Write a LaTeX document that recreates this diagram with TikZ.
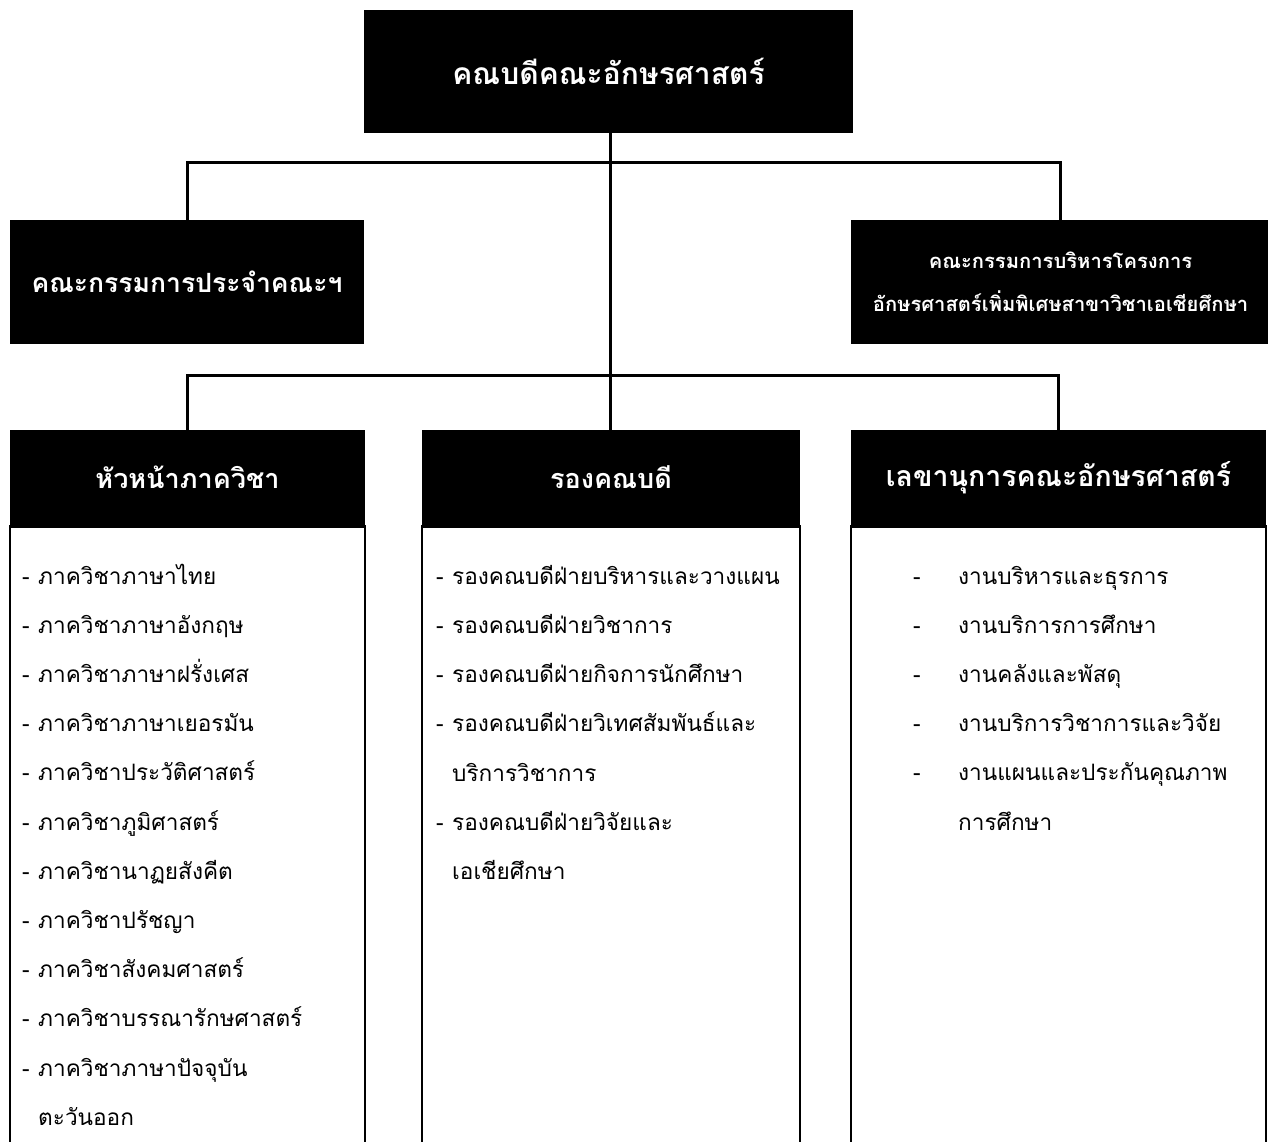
\documentclass[tikz,border=0pt]{standalone}
\usepackage{fontspec}
\newfontfamily\thai[Script=Thai]{Loma}
\tikzset{
  px/.style={x=1pt,y=-1pt},
  blackbox/.style={fill=black, text=white, inner sep=0pt, align=center, font=\thai\bfseries},
  bodybox/.style={draw=black, line width=2.5pt, fill=white, inner sep=0pt},
  conn/.style={draw=black, line width=3pt},
  item/.style={anchor=base west, inner sep=0pt, font=\thai\fontsize{22.6}{26}\selectfont},
}
\begin{document}
\begin{tikzpicture}[px]
\useasboundingbox (0,0) rectangle (1268,1142);
\clip (0,0) rectangle (1268,1142);
\fill[white] (0,0) rectangle (1268,1142);

% connector junctions
\coordinate (j1) at (610.5,163);
\coordinate (j2) at (610.5,375);

% bodies of bottom boxes
\node[bodybox, minimum width=355pt, minimum height=640pt, anchor=north] (lbody) at (187.5,525) {};
\node[bodybox, minimum width=378pt, minimum height=640pt, anchor=north] (mbody) at (611,525) {};
\node[bodybox, minimum width=415pt, minimum height=640pt, anchor=north] (rbody) at (1058.5,525) {};

\node[blackbox, minimum width=489pt, minimum height=123pt, font=\thai\bfseries\fontsize{30}{34}\selectfont] (dean) at (608.5,71.5) {คณบดีคณะอักษรศาสตร์};
\node[blackbox, minimum width=354pt, minimum height=124pt, font=\thai\bfseries\fontsize{26.5}{30}\selectfont] (lcom) at (187,282) {คณะกรรมการประจำคณะฯ};
\node[blackbox, minimum width=419pt, minimum height=124pt, font=\thai\bfseries\fontsize{20.2}{43}\selectfont] (rcom) at (1060.5,282) {คณะกรรมการบริหารโครงการ\\อักษรศาสตร์เพิ่มพิเศษสาขาวิชาเอเชียศึกษา};
\node[blackbox, minimum width=355pt, minimum height=95pt, font=\thai\bfseries\fontsize{27}{30}\selectfont] (lhead) at (187.5,477.5) {หัวหน้าภาควิชา};
\node[blackbox, minimum width=378pt, minimum height=95pt, font=\thai\bfseries\fontsize{27}{30}\selectfont] (mhead) at (611,477.5) {รองคณบดี};
\node[blackbox, minimum width=415pt, minimum height=95pt, font=\thai\bfseries\fontsize{28.5}{30}\selectfont] (rhead) at (1058.5,477.5) {เลขานุการคณะอักษรศาสตร์};

\draw[conn] (dean.south -| j1) -- (j1) -- (j2) -- (j2 |- mhead.north);
\draw[conn] (lcom.north) |- (j1) -| (rcom.north);
\draw[conn] (lhead.north) |- (j2) -| (rhead.north);

% left list
\foreach \t [count=\i] in {ภาควิชาภาษาไทย,ภาควิชาภาษาอังกฤษ,ภาควิชาภาษาฝรั่งเศส,ภาควิชาภาษาเยอรมัน,ภาควิชาประวัติศาสตร์,ภาควิชาภูมิศาสตร์,ภาควิชานาฏยสังคีต,ภาควิชาปรัชญา,ภาควิชาสังคมศาสตร์,ภาควิชาบรรณารักษศาสตร์,ภาควิชาภาษาปัจจุบัน}{
  \node[item] (ld\i) at (22,{584+49.2*(\i-1)}) {-};
  \node[item] (lt\i) at (38,{584+49.2*(\i-1)}) {\t};
}
\node[item] (lt12) at (38,1125) {ตะวันออก};

% middle list
\node[item] (md1) at (436,584) {-};
\node[item] (mt1) at (452,584) {รองคณบดีฝ่ายบริหารและวางแผน};
\node[item] (md2) at (436,633) {-};
\node[item] (mt2) at (452,633) {รองคณบดีฝ่ายวิชาการ};
\node[item] (md3) at (436,682) {-};
\node[item] (mt3) at (452,682) {รองคณบดีฝ่ายกิจการนักศึกษา};
\node[item] (md4) at (436,731) {-};
\node[item] (mt4) at (452,731) {รองคณบดีฝ่ายวิเทศสัมพันธ์และ};
\node[item] (mt5) at (452,781) {บริการวิชาการ};
\node[item] (md6) at (436,830) {-};
\node[item] (mt6) at (452,830) {รองคณบดีฝ่ายวิจัยและ};
\node[item] (mt7) at (452,879) {เอเชียศึกษา};

% right list
\foreach \t [count=\i] in {งานบริหารและธุรการ,งานบริการการศึกษา,งานคลังและพัสดุ,งานบริการวิชาการและวิจัย,งานแผนและประกันคุณภาพ}{
  \node[item] (rd\i) at (913,{584+49.2*(\i-1)}) {-};
  \node[item] (rt\i) at (958,{584+49.2*(\i-1)}) {\t};
}
\node[item] (rt6) at (958,830) {การศึกษา};
\end{tikzpicture}
\end{document}
